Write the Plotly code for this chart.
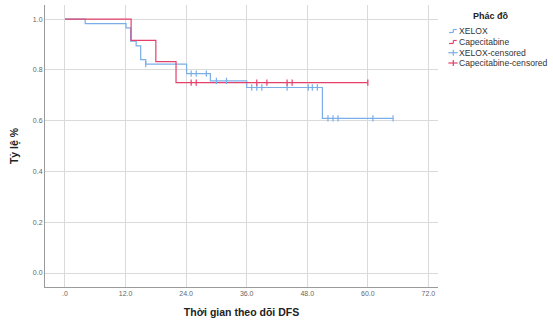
import plotly.graph_objects as go

# ---- data ----
xelox_time = [0, 4, 12.1, 13, 14.1, 15, 16, 24.1, 28.8, 36, 51, 65]
xelox_surv = [1.0, 0.983, 0.966, 0.914, 0.895, 0.841, 0.823, 0.786, 0.757, 0.731, 0.609, 0.609]
cape_time = [0, 13.1, 18, 22, 60]
cape_surv = [1.0, 0.917, 0.833, 0.75, 0.75]
xelox_cens = [16, 25, 26, 28, 30, 32, 37, 38, 39, 44, 48.2, 49, 50, 52.1, 53.1, 54.1, 61, 65]
cape_cens = [25, 26, 38, 40, 44, 45, 60]
x_ticks = [0, 12, 24, 36, 48, 60, 72]
x_ticktext = [".0", "12.0", "24.0", "36.0", "48.0", "60.0", "72.0"]
y_ticks = [0.0, 0.2, 0.4, 0.6, 0.8, 1.0]
y_ticktext = ["0.0", "0.2", "0.4", "0.6", "0.8", "1.0"]
legend_title = "Phác đồ"
legend_names = ["XELOX", "Capecitabine", "XELOX-censored", "Capecitabine-censored"]

BLUE = "#7AAEE8"
RED = "#E4406A"
FONT = "Arial, Liberation Sans, sans-serif"


def surv_at(times, surv, t):
    v = surv[0]
    for ti, si in zip(times, surv):
        if ti <= t:
            v = si
    return v


fig = go.Figure()
fig.add_trace(go.Scatter(x=xelox_time, y=xelox_surv, mode="lines", line_shape="hv",
                         line=dict(color=BLUE, width=1.2), showlegend=False))
fig.add_trace(go.Scatter(x=cape_time, y=cape_surv, mode="lines", line_shape="hv",
                         line=dict(color=RED, width=1.2), showlegend=False))
fig.add_trace(go.Scatter(x=xelox_cens, y=[surv_at(xelox_time, xelox_surv, t) for t in xelox_cens],
                         mode="markers", marker=dict(symbol="line-ns", size=4.5,
                                                     line=dict(color=BLUE, width=1.2)),
                         showlegend=False))
fig.add_trace(go.Scatter(x=cape_cens, y=[surv_at(cape_time, cape_surv, t) for t in cape_cens],
                         mode="markers", marker=dict(symbol="line-ns", size=4.5,
                                                     line=dict(color=RED, width=1.2)),
                         showlegend=False))

# plot area in pixels
L, R, T, B = 45, 438, 5, 287
W, H = 553, 327


def px(xp):
    return (xp - L) / (R - L)


def py(yp):
    return (B - yp) / (B - T)


shapes = []
annotations = []


def seg(x0, y0, x1, y1, color):
    shapes.append(dict(type="line", xref="paper", yref="paper",
                       x0=px(x0), y0=py(y0), x1=px(x1), y1=py(y1),
                       line=dict(color=color, width=1.2)))


# legend title
annotations.append(dict(text="<b>%s</b>" % legend_title, xref="paper", yref="paper",
                        x=px(491), y=py(15.5), xanchor="center", yanchor="middle",
                        showarrow=False, font=dict(family=FONT, size=9, color="#222")))
rows = [31, 42, 52.7, 63]
colors = [BLUE, RED, BLUE, RED]
for i, (name, yy, c) in enumerate(zip(legend_names, rows, colors)):
    if i < 2:
        seg(449, yy + 1.5, 453.3, yy + 1.5, c)
        seg(453.3, yy + 1.5, 453.3, yy - 1.5, c)
        seg(453.3, yy - 1.5, 456.7, yy - 1.5, c)
    else:
        seg(448.3, yy, 457.7, yy, c)
        seg(453.3, yy - 3, 453.3, yy + 3, c)
    annotations.append(dict(text=name, xref="paper", yref="paper",
                            x=px(456.5), y=py(yy), xanchor="left", yanchor="middle",
                            showarrow=False, font=dict(family=FONT, size=8.6, color="#333")))

fig.update_layout(
    width=W, height=H,
    margin=dict(l=L, r=W - R, t=T, b=H - B, autoexpand=False),
    paper_bgcolor="white", plot_bgcolor="white",
    font=dict(family=FONT),
    shapes=shapes, annotations=annotations,
    xaxis=dict(range=[-3.96, 73.9], tickvals=x_ticks, ticktext=x_ticktext,
               showgrid=True, gridcolor="#DADADA", gridwidth=1,
               showline=True, linecolor="#9A9A9A", linewidth=1, ticks="",
               zeroline=False, tickfont=dict(size=7, color="#666"),
               title=dict(text="<b>Thời gian theo dõi DFS</b>",
                          font=dict(size=10.5, color="#222"), standoff=12)),
    yaxis=dict(range=[-0.055, 1.056], tickvals=y_ticks, ticktext=y_ticktext,
               showgrid=True, gridcolor="#DADADA", gridwidth=1,
               showline=True, linecolor="#9A9A9A", linewidth=1, ticks="",
               zeroline=False, tickfont=dict(size=7, color="#666"),
               title=dict(text="<b>Tỷ lệ %</b>",
                          font=dict(size=10.5, color="#222"), standoff=12)),
)

fig.write_html("out.html", config={"displayModeBar": False, "staticPlot": True},
               post_script="document.body.style.margin='0px';document.body.style.overflow='hidden';")
